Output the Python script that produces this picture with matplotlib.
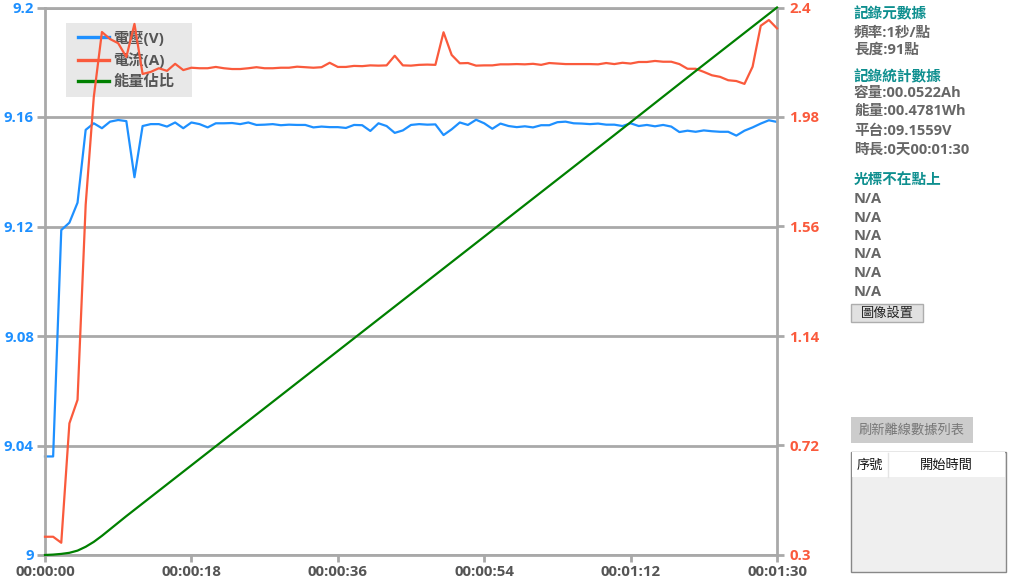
import matplotlib
matplotlib.use('Agg')
import matplotlib.pyplot as plt
from matplotlib.patches import Rectangle
from matplotlib.lines import Line2D

plt.rcParams['font.family'] = ['Open Sans', 'Noto Sans CJK TC', 'DejaVu Sans']

# ---------------- data ----------------
seconds = list(range(91))
voltage = [9.036, 9.036, 9.1187, 9.1214, 9.1287, 9.1553, 9.1577, 9.1559, 9.1583, 9.1589,
           9.1585, 9.138, 9.1567, 9.1574, 9.1574, 9.1565, 9.158, 9.1559, 9.158, 9.1574,
           9.1562, 9.1577, 9.1577, 9.1578, 9.1574, 9.158, 9.1571, 9.1572, 9.1574, 9.157,
           9.1572, 9.1571, 9.1571, 9.1562, 9.1565, 9.1563, 9.1563, 9.156, 9.1571, 9.157,
           9.1549, 9.1577, 9.1567, 9.1542, 9.1551, 9.1571, 9.1574, 9.1572, 9.1573, 9.1534,
           9.1555, 9.158, 9.1571, 9.159, 9.1577, 9.1557, 9.1576, 9.1567, 9.1563, 9.1566,
           9.1562, 9.157, 9.157, 9.1581, 9.1583, 9.1577, 9.1576, 9.1574, 9.1576, 9.1572,
           9.1572, 9.1567, 9.1577, 9.1567, 9.1571, 9.1566, 9.1571, 9.1565, 9.1545, 9.155,
           9.1546, 9.1551, 9.1548, 9.1546, 9.1546, 9.1532, 9.155, 9.1562, 9.1576, 9.1588,
           9.1582]
current = [0.370, 0.370, 0.347, 0.805, 0.895, 1.643, 2.057, 2.306, 2.279, 2.263,
           2.21, 2.337, 2.145, 2.153, 2.167, 2.157, 2.184, 2.16, 2.169, 2.167,
           2.167, 2.172, 2.167, 2.164, 2.164, 2.167, 2.171, 2.167, 2.167, 2.169,
           2.169, 2.173, 2.171, 2.169, 2.171, 2.188, 2.172, 2.172, 2.176, 2.175,
           2.178, 2.177, 2.178, 2.215, 2.178, 2.177, 2.18, 2.181, 2.18, 2.305,
           2.218, 2.186, 2.187, 2.177, 2.178, 2.178, 2.182, 2.182, 2.183, 2.182,
           2.184, 2.18, 2.187, 2.185, 2.183, 2.183, 2.183, 2.183, 2.182, 2.187,
           2.183, 2.188, 2.185, 2.191, 2.191, 2.195, 2.192, 2.192, 2.183, 2.165,
           2.165, 2.153, 2.14, 2.134, 2.121, 2.118, 2.107, 2.173, 2.33, 2.352,
           2.32]
energy_t = [0, 1, 2, 3, 4, 5, 6, 7, 8, 9, 10, 20, 30, 40, 50, 60, 70, 80, 90]
energy_ratio = [0.0, 0.0007, 0.002, 0.004, 0.008, 0.015, 0.024, 0.035, 0.047, 0.059,
                0.071, 0.187, 0.303, 0.419, 0.535, 0.651, 0.767, 0.884, 1.0]

x_ticks = [0, 18, 36, 54, 72, 90]
x_tick_labels = ['00:00:00', '00:00:18', '00:00:36', '00:00:54', '00:01:12', '00:01:30']
v_ticks = [9.0, 9.04, 9.08, 9.12, 9.16, 9.2]
v_tick_labels = ['9', '9.04', '9.08', '9.12', '9.16', '9.2']
i_ticks = [0.3, 0.72, 1.14, 1.56, 1.98, 2.4]
i_tick_labels = ['0.3', '0.72', '1.14', '1.56', '1.98', '2.4']
legend_labels = ['電壓(V)', '電流(A)', '能量佔比']

panel_meta_title = '記錄元數據'
panel_meta = ['頻率:1秒/點', '長度:91點']
panel_stat_title = '記錄統計數據'
panel_stats = ['容量:00.0522Ah', '能量:00.4781Wh', '平台:09.1559V', '時長:0天00:01:30']
panel_cursor_title = '光標不在點上'
panel_cursor = ['N/A', 'N/A', 'N/A', 'N/A', 'N/A', 'N/A']
btn_image = '圖像設置'
btn_refresh = '刷新離線數據列表'
table_headers = ['序號', '開始時間']

# ---------------- styles ----------------
W, H = 1009, 582
GRID = '#a9a9a9'
BLUE = '#1e90ff'
RED = '#fa5a3c'
GREEN = '#008000'
TEAL = '#0e8f8f'
GRAYTXT = '#666666'

AX_L, AX_B, AX_W, AX_H = 45, 27, 732, 547.5


def fx(x):
    return x / W


def fy(y):
    return 1 - y / H


def axx(x):
    return (x - AX_L) / AX_W


def axy(y):
    return (H - AX_B - y) / AX_H


fig = plt.figure(figsize=(W / 100, H / 100), dpi=100)
fig.patch.set_facecolor('white')

ax = fig.add_axes([fx(AX_L), AX_B / H, AX_W / W, AX_H / H])
ax.set_xlim(0, 90)
ax.set_ylim(9.0, 9.2)
ax2 = ax.twinx()
ax2.set_ylim(0.3, 2.4)
ax3 = ax.twinx()
ax3.set_ylim(0, 1)
ax3.axis('off')

for s in ax.spines.values():
    s.set_color(GRID)
    s.set_linewidth(2)
for s in ax2.spines.values():
    s.set_visible(False)

ax.set_xticks(x_ticks)
ax.set_xticklabels(x_tick_labels, fontweight='bold', fontsize=10.8)
ax.set_yticks(v_ticks)
ax.set_yticklabels(v_tick_labels, fontweight='bold', fontsize=10.8)
ax.grid(axis='y', color=GRID, linewidth=2)
ax.set_axisbelow(True)
ax.tick_params(axis='x', length=5, width=2, color=GRID, labelcolor='#555555', pad=2)
ax.tick_params(axis='y', length=6, width=2, color=GRID, labelcolor=BLUE, pad=2)

ax2.set_yticks(i_ticks)
ax2.set_yticklabels(i_tick_labels, fontweight='bold', fontsize=10.8)
ax2.tick_params(axis='y', length=5, width=2, color=GRID, labelcolor=RED, pad=4)

l1, = ax.plot(seconds, voltage, color=BLUE, linewidth=1.6)
l2, = ax2.plot(seconds, current, color=RED, linewidth=1.6)
l3, = ax3.plot(energy_t, energy_ratio, color=GREEN, linewidth=1.6)
for l in (l1, l2, l3):
    l.set_clip_on(False)

# legend background box (behind the plotted lines)
ax.add_patch(Rectangle((axx(66), axy(97)), 126 / AX_W, 74 / AX_H, transform=ax.transAxes,
                       facecolor='#e8e8e8', edgecolor='none', zorder=1.5))
leg = ax.legend([l1, l2, l3], legend_labels, loc='upper left',
                bbox_to_anchor=(axx(78), axy(30.5)),
                borderaxespad=0, frameon=False, borderpad=0,
                prop={'weight': 'bold', 'size': 11}, labelcolor='#555555',
                handlelength=2.0, handletextpad=0.3, labelspacing=0.44)
leg.set_zorder(1.6)
for h in leg.get_lines():
    h.set_linewidth(2.4)

# ---------------- right panel ----------------
def ptext(x, y, s, color, size=10.5, weight='bold', ha='left'):
    fig.text(fx(x), fy(y), s, color=color, fontsize=size, fontweight=weight,
             ha=ha, va='center')


ptext(854, 14, panel_meta_title, TEAL)
for s, y in zip(panel_meta, [32.5, 50]):
    ptext(854, y, s, GRAYTXT)
ptext(854, 77.5, panel_stat_title, TEAL)
for s, y in zip(panel_stats, [93.5, 111, 130.5, 150]):
    ptext(854, y, s, GRAYTXT)
ptext(854, 180, panel_cursor_title, TEAL)
for s, y in zip(panel_cursor, [199, 217.5, 236, 254.5, 273, 292.5]):
    ptext(854, y, s, GRAYTXT)

# button image settings
fig.patches.append(Rectangle((fx(851), fy(322)), 72 / W, 18 / H, transform=fig.transFigure,
                             facecolor='#e1e1e1', edgecolor='#adadad', linewidth=1))
ptext(887, 313, btn_image, '#222222', size=9.5, weight='normal', ha='center')

# refresh button
fig.patches.append(Rectangle((fx(851), fy(443)), 122 / W, 26 / H, transform=fig.transFigure,
                             facecolor='#cccccc', edgecolor='none'))
ptext(912, 430, btn_refresh, '#777777', size=9.5, weight='normal', ha='center')

# table
fig.patches.append(Rectangle((fx(851), fy(571.5)), 155 / W, 120 / H, transform=fig.transFigure,
                             facecolor='#efefef', edgecolor='#888888', linewidth=1))
fig.patches.append(Rectangle((fx(852), fy(476.5)), 153 / W, 24.5 / H, transform=fig.transFigure,
                             facecolor='white', edgecolor='none'))
fig.lines.append(Line2D([fx(887.5), fx(887.5)], [fy(452.5), fy(476.5)], transform=fig.transFigure,
                        color='#e4e4e4', linewidth=1))
ptext(870, 465, table_headers[0], '#111111', size=9.5, weight='normal', ha='center')
ptext(946.5, 465, table_headers[1], '#111111', size=9.5, weight='normal', ha='center')

fig.savefig('out.png', dpi=100, facecolor='white')
